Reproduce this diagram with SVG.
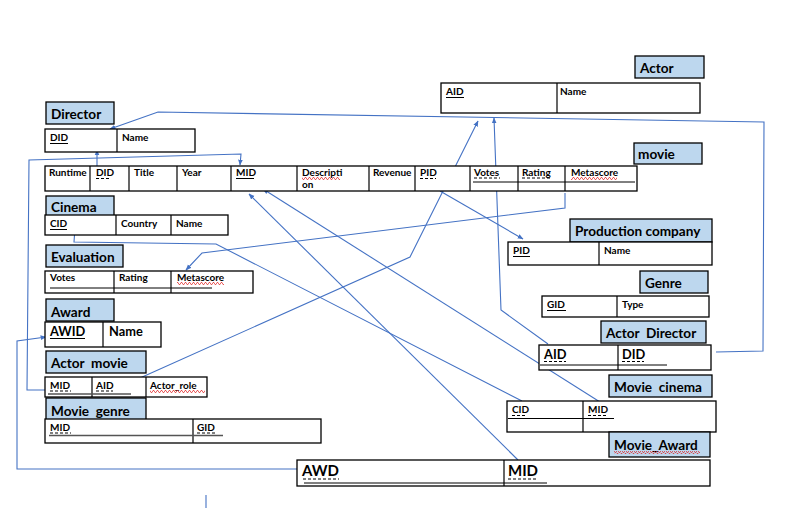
<svg xmlns="http://www.w3.org/2000/svg" width="789" height="508" viewBox="0 0 789 508">
<style>
.lbl{fill:#BDD7EE;stroke:#000;stroke-width:1.3}
.tb{fill:#fff;stroke:#000;stroke-width:1.3}
.dv{stroke:#000;stroke-width:1.2}
.t{font-family:Lato,"Liberation Sans",sans-serif;font-weight:700;font-size:10px;fill:#000}
.h{font-family:Lato,"Liberation Sans",sans-serif;font-weight:700;font-size:13.6px;fill:#000;white-space:pre}
.m{font-family:Lato,"Liberation Sans",sans-serif;font-weight:700;font-size:12.8px;fill:#000}
.b{font-family:Lato,"Liberation Sans",sans-serif;font-weight:700;font-size:15px;fill:#000}
.u{stroke:#000;stroke-width:1}
.ud{stroke:#000;stroke-width:1;stroke-dasharray:3 2}
.ug{stroke:#555;stroke-width:1.4}
.w{fill:url(#wavy)}
.c{fill:none;stroke:#4472C4;stroke-width:1.1}
.ca{fill:none;stroke:#4472C4;stroke-width:1.1;marker-end:url(#ah)}
</style>
<defs>
<marker id="ah" viewBox="0 0 10 10" refX="9" refY="5" markerWidth="6" markerHeight="6" markerUnits="userSpaceOnUse" orient="auto">
<path d="M0,1 L10,5 L0,9 Z" fill="#4472C4"/>
</marker>
<pattern id="wavy" width="4" height="3" patternUnits="userSpaceOnUse">
<path d="M0,2.5 L1,0.5 L2,0.5 L3,2.5 L4,2.5" fill="none" stroke="#E02020" stroke-width="0.7"/>
</pattern>
</defs>
<rect width="789" height="508" fill="#fff"/>

<g id="connectors">
<path class="ca" d="M716,352 L763,351 L764,122 L158,112 L110,129"/>
<path class="ca" d="M97,166 L97,150"/>
<path class="ca" d="M46,390 L27,390 L29,160 L241,154 L240,165"/>
<path class="ca" d="M297,469 L17,469 L17,341 L46,337"/>
<path class="ca" d="M522,401 L216,244 L74,242 L75,228"/>
<path class="ca" d="M565,193 L565,208 L202,253 L186,270"/>
<path class="ca" d="M440,191 L523,239"/>
<path class="ca" d="M140,378 L410,257 L478,121"/>
<path class="ca" d="M548,344 L501,310 L494,118"/>
<path class="ca" d="M600,402 L263,189"/>
<path class="ca" d="M518,460 L249,194"/>
<path class="c" d="M206,495 L206,508"/>
</g>

<g id="director">
<rect class="lbl" x="46" y="102" width="68" height="22"/>
<text class="h" x="51" y="119">Director</text>
<rect class="tb" x="45" y="129" width="150" height="23"/>
<line class="dv" x1="117" y1="129" x2="117" y2="152"/>
<text class="t" x="50" y="141">DID</text><line class="u" x1="50" y1="143.5" x2="68" y2="143.5"/>
<text class="t" x="122" y="141">Name</text>
</g>

<g id="actor">
<rect class="lbl" x="635" y="56" width="69" height="22"/>
<text class="h" x="640" y="73">Actor</text>
<rect class="tb" x="441" y="83" width="259" height="30"/>
<line class="dv" x1="557" y1="83" x2="557" y2="113"/>
<text class="t" x="446" y="95">AID</text><line class="u" x1="446" y1="97.5" x2="464" y2="97.5"/>
<text class="t" x="560" y="95">Name</text>
</g>

<g id="movie">
<rect class="lbl" x="634" y="143" width="68" height="21"/>
<text class="h" x="638" y="159">movie</text>
<rect class="tb" x="45" y="166" width="592" height="25"/>
<line class="dv" x1="90" y1="166" x2="90" y2="191"/>
<line class="dv" x1="129" y1="166" x2="129" y2="191"/>
<line class="dv" x1="177" y1="166" x2="177" y2="191"/>
<line class="dv" x1="231" y1="166" x2="231" y2="191"/>
<line class="dv" x1="297" y1="166" x2="297" y2="191"/>
<line class="dv" x1="369" y1="166" x2="369" y2="191"/>
<line class="dv" x1="415" y1="166" x2="415" y2="191"/>
<line class="dv" x1="470" y1="166" x2="470" y2="191"/>
<line class="dv" x1="518" y1="166" x2="518" y2="191"/>
<line class="dv" x1="565" y1="166" x2="565" y2="191"/>
<line class="u" x1="473" y1="182" x2="635" y2="182"/>
<text class="t" x="49" y="176">Runtime</text>
<text class="t" x="96" y="176">DID</text><line class="ud" x1="96" y1="178.5" x2="110" y2="178.5"/>
<text class="t" x="134" y="176">Title</text>
<text class="t" x="182" y="176">Year</text>
<text class="t" x="236" y="176">MID</text><line class="u" x1="236" y1="178.5" x2="254" y2="178.5"/>
<text class="t" x="302" y="176">Descripti</text><rect class="w" x="302" y="177" width="38" height="3"/>
<text class="t" x="302" y="188">on</text>
<text class="t" x="373" y="176">Revenue</text>
<text class="t" x="420" y="176">PID</text><line class="ud" x1="420" y1="178.5" x2="436" y2="178.5"/>
<text class="t" x="474" y="176">Votes</text><line class="ud" x1="474" y1="178" x2="500" y2="178"/>
<text class="t" x="522" y="176">Rating</text><line class="ud" x1="522" y1="178" x2="550" y2="178"/>
<text class="t" x="571" y="176">Metascore</text><rect class="w" x="571" y="177" width="46" height="3"/>
</g>

<g id="cinema">
<rect class="lbl" x="46" y="196" width="68" height="20"/>
<text class="h" x="51" y="212">Cinema</text>
<rect class="tb" x="45" y="215" width="183" height="20"/>
<line class="dv" x1="116" y1="215" x2="116" y2="235"/>
<line class="dv" x1="171" y1="215" x2="171" y2="235"/>
<text class="t" x="50" y="227">CID</text><line class="u" x1="50" y1="229.5" x2="67" y2="229.5"/>
<text class="t" x="121" y="227">Country</text>
<text class="t" x="176" y="227">Name</text>
</g>

<g id="evaluation">
<rect class="lbl" x="46" y="245" width="77" height="22"/>
<text class="h" x="51" y="262">Evaluation</text>
<rect class="tb" x="45" y="271" width="208" height="22"/>
<line class="dv" x1="114" y1="271" x2="114" y2="293"/>
<line class="dv" x1="171" y1="271" x2="171" y2="293"/>
<line class="u" x1="50" y1="288" x2="212" y2="288"/>
<text class="t" x="50" y="281">Votes</text>
<text class="t" x="119" y="281">Rating</text>
<text class="t" x="177" y="281">Metascore</text><rect class="w" x="177" y="282" width="47" height="3"/>
</g>

<g id="award">
<rect class="lbl" x="46" y="299" width="68" height="22"/>
<text class="h" x="51" y="317">Award</text>
<rect class="tb" x="45" y="322" width="116" height="25"/>
<line class="dv" x1="103" y1="322" x2="103" y2="347"/>
<text class="m" x="50" y="336">AWID</text><line class="u" x1="50" y1="338.5" x2="85" y2="338.5"/>
<text class="m" x="109" y="336">Name</text>
</g>

<g id="actor-movie">
<rect class="lbl" x="46" y="351" width="100" height="22"/>
<text class="h" x="51" y="368">Actor  movie</text>
<rect class="tb" x="45" y="377" width="162" height="20"/>
<line class="dv" x1="92" y1="377" x2="92" y2="397"/>
<line class="dv" x1="146" y1="377" x2="146" y2="397"/>
<text class="t" x="50" y="389">MID</text><line class="ud" x1="50" y1="391" x2="71" y2="391"/>
<text class="t" x="96" y="389">AID</text><line class="ud" x1="96" y1="391" x2="113" y2="391"/>
<line class="ug" x1="48" y1="394" x2="131" y2="394"/>
<text class="t" x="150" y="389">Actor_role</text><rect class="w" x="150" y="390" width="55" height="3"/>
</g>

<g id="movie-genre">
<rect class="lbl" x="46" y="398" width="100" height="22"/>
<text class="h" x="51" y="416">Movie  genre</text>
<rect class="tb" x="45" y="419" width="276" height="24"/>
<line class="dv" x1="193" y1="419" x2="193" y2="443"/>
<text class="t" x="50" y="431">MID</text><line class="ud" x1="50" y1="433" x2="71" y2="433"/>
<text class="t" x="197" y="431">GID</text><line class="ud" x1="197" y1="433" x2="215" y2="433"/>
<line class="ug" x1="49" y1="435.5" x2="223" y2="435.5"/>
</g>

<g id="production-company">
<rect class="lbl" x="570" y="219" width="142" height="23"/>
<text class="h" x="575" y="236">Production company</text>
<rect class="tb" x="508" y="242" width="204" height="23"/>
<line class="dv" x1="599" y1="242" x2="599" y2="265"/>
<text class="t" x="513" y="254">PID</text><line class="u" x1="513" y1="256.5" x2="530" y2="256.5"/>
<text class="t" x="604" y="254">Name</text>
</g>

<g id="genre">
<rect class="lbl" x="640" y="271" width="68" height="22"/>
<text class="h" x="645" y="288">Genre</text>
<rect class="tb" x="542" y="296" width="167" height="21"/>
<line class="dv" x1="617" y1="296" x2="617" y2="317"/>
<text class="t" x="547" y="308">GID</text><line class="u" x1="547" y1="310.5" x2="566" y2="310.5"/>
<text class="t" x="622" y="308">Type</text>
</g>

<g id="actor-director">
<rect class="lbl" x="601" y="321" width="105" height="22"/>
<text class="h" x="606" y="338">Actor  Director</text>
<rect class="tb" x="539" y="345" width="172" height="25"/>
<line class="dv" x1="618" y1="345" x2="618" y2="370"/>
<text class="m" x="544" y="359">AID</text><line class="ud" x1="544" y1="361.5" x2="566" y2="361.5"/>
<text class="m" x="622" y="359">DID</text><line class="ud" x1="622" y1="361.5" x2="644" y2="361.5"/>
<line class="u" x1="540" y1="365" x2="667" y2="365"/>
</g>

<g id="movie-cinema">
<rect class="lbl" x="609" y="375" width="103" height="22"/>
<text class="h" x="614" y="392">Movie  cinema</text>
<rect class="tb" x="507" y="401" width="209" height="31"/>
<line class="dv" x1="583" y1="401" x2="583" y2="432"/>
<text class="t" x="512" y="413">CID</text><line class="ud" x1="512" y1="415.5" x2="527" y2="415.5"/>
<text class="t" x="588" y="413">MID</text><line class="ud" x1="588" y1="415.5" x2="607" y2="415.5"/>
<line class="u" x1="508" y1="418.5" x2="614" y2="418.5"/>
</g>

<g id="movie-award">
<rect class="lbl" x="609" y="432" width="101" height="25"/>
<text class="h" x="614" y="450">Movie_Award</text><rect class="w" x="614" y="451" width="86" height="3"/>
<rect class="tb" x="297" y="460" width="413" height="26"/>
<line class="dv" x1="504" y1="460" x2="504" y2="486"/>
<text class="b" x="302" y="476">AWD</text><line class="ud" x1="303" y1="479" x2="339" y2="479"/>
<text class="b" x="508" y="476">MID</text><line class="ud" x1="508" y1="479" x2="538" y2="479"/>
<line class="u" x1="304" y1="483" x2="547" y2="483"/>
</g>
</svg>
